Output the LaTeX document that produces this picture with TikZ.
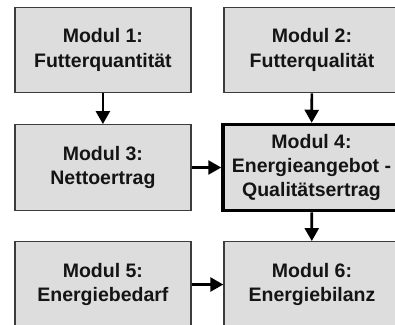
\documentclass[tikz,border=0pt]{standalone}
\usepackage{fontspec}
\setmainfont{Liberation Sans}
\usetikzlibrary{arrows.meta}
\definecolor{boxfill}{RGB}{221,221,221}
\definecolor{boxline}{RGB}{60,60,60}
\begin{document}
\begin{tikzpicture}[x=1pt,y=-1pt,
  modbox/.style={draw=boxline, line width=1.4pt, fill=boxfill, rectangle,
    minimum width=176pt, minimum height=85.5pt, inner sep=0pt, align=center,
    font=\fontsize{19.5pt}{24.3pt}\selectfont\bfseries, text=black!92},
  thickbox/.style={modbox, draw=black, line width=3.5pt, minimum width=177pt, minimum height=86pt},
  arr/.style={draw=black, line width=2.6pt, -{Triangle[length=13pt,width=14pt]}}]
\useasboundingbox (0,0) rectangle (395,324);
\clip (0,0) rectangle (395,324);
\fill[white] (0,0) rectangle (395,324);
\node[modbox] (m1) at (102.9,50) {Modul 1:\\Futterquantität};
\node[modbox] (m2) at (312,50) {Modul 2:\\Futterqualität};
\node[modbox] (m3) at (102.9,167.5) {Modul 3:\\Nettoertrag};
\node[thickbox] (m4) at (311.5,167.5) {Modul 4:\\Energieangebot -\\Qualitätsertrag};
\node[modbox] (m5) at (102.9,284.5) {Modul 5:\\Energiebedarf};
\node[modbox] (m6) at (312,284.5) {Modul 6:\\Energiebilanz};
\draw[arr] (m1) -- (m3);
\draw[arr] (m2) -- (m4);
\draw[arr] (m3) -- (m4);
\draw[arr] (m4) -- (m6);
\draw[arr] (m5) -- (m6);
\end{tikzpicture}
\end{document}
